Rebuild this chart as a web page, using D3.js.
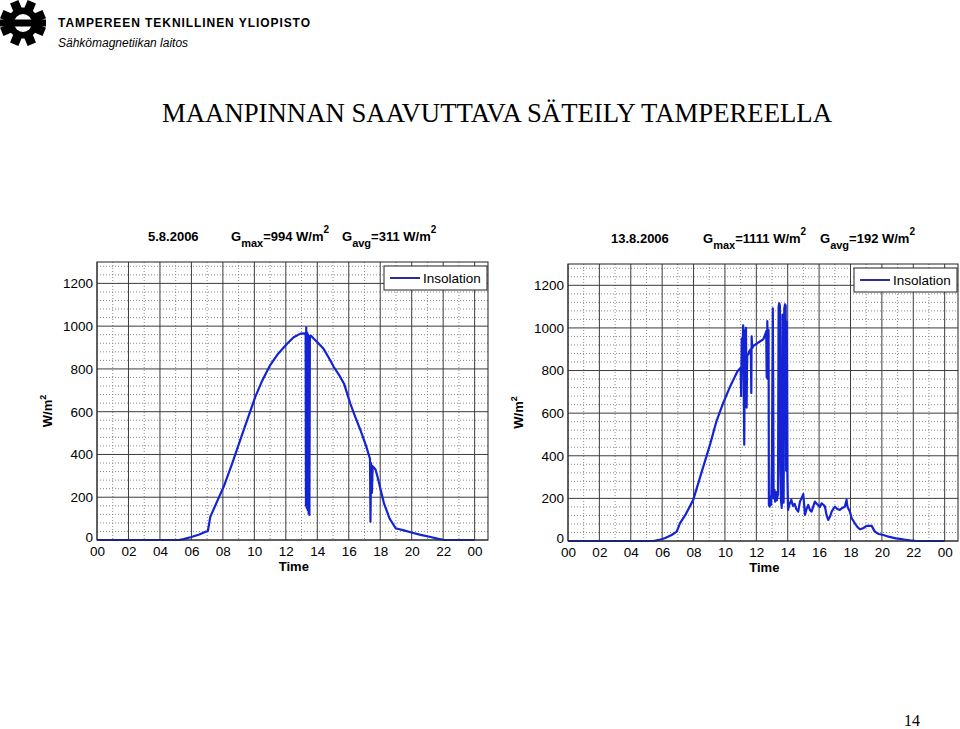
<!DOCTYPE html>
<meta charset="utf-8">
<style>
body { margin: 0; background: #fff; }
svg text { font-family: "Liberation Sans", Arial, sans-serif; }
.tick text { font-size: 13px; fill: #000; }
.major line { stroke: #3c3c3c; stroke-width: 1; }
.minor line { stroke: #8a8a8a; stroke-width: 1; stroke-dasharray: 1,2; }
.axis path.domain { display: none; }
.data { fill: none; stroke: #1424d4; stroke-width: 2.2px; stroke-linejoin: round; }
</style>
<body>
<div id="page"></div>
<script src="https://d3js.org/d3.v7.min.js"></script>
<script>

// 5.8.2006 insolation, hour of day and W/m2
var day1Hours = [0, 5.2, 5.5, 6.0, 6.5, 7.05, 7.2, 7.6, 8.05, 8.6, 9.1, 9.6, 10.06, 10.5, 11.0, 11.5, 12.08, 12.5, 12.93, 13.2,
  13.26, 13.28, 13.3, 13.33, 13.36, 13.39, 13.42, 13.45, 13.48, 13.5, 13.53, 13.6, 13.78, 14.1, 14.4, 14.75, 15.05, 15.4, 15.7,
  16.1, 16.4, 16.75, 17.1, 17.35, 17.38, 17.42, 17.47, 17.52, 17.7, 17.85, 18.0, 18.24, 18.6, 18.98, 19.5, 20.04, 20.57, 21.2,
  21.7, 22.0, 22.5, 24];
var day1Values = [0, 0, 4, 14, 26, 43, 108, 175, 249, 360, 467, 572, 669, 745, 817, 870, 918, 948, 965, 966,
  960, 160, 994, 150, 970, 140, 960, 125, 955, 117, 950, 955, 941, 918, 894, 850, 809, 770, 731,
  638, 578, 513, 440, 380, 85, 360, 220, 345, 330, 290, 243, 171, 100, 55, 45, 34, 24, 14,
  5, 1, 0, 0];

// 13.8.2006 insolation
var day2Hours = [0, 5.43, 5.8, 6.2, 6.6, 6.93, 7.13, 7.5, 7.98, 8.5, 9.04, 9.45, 9.89, 10.3, 10.8, 11.0, 11.03, 11.07, 11.1,
  11.16, 11.2, 11.23, 11.27, 11.3, 11.34, 11.38, 11.42, 11.49, 11.55, 11.65, 11.68, 11.7, 11.74, 11.8, 12.0, 12.2, 12.44,
  12.6, 12.63, 12.66, 12.7, 12.74, 12.78, 12.8, 12.85, 12.9, 12.95, 13.0, 13.05, 13.08, 13.1, 13.15, 13.2, 13.25, 13.3,
  13.38, 13.42, 13.46, 13.5, 13.53, 13.57, 13.62, 13.66, 13.7, 13.74, 13.78, 13.83, 13.87, 13.9, 13.94, 13.98, 14.02,
  14.1, 14.23, 14.33, 14.44, 14.55, 14.67, 14.78, 14.88, 14.99, 15.1, 15.2, 15.31, 15.42, 15.52, 15.62, 15.73, 15.84,
  15.94, 16.05, 16.16, 16.27, 16.37, 16.48, 16.58, 16.7, 16.8, 16.9, 17.01, 17.16, 17.32, 17.48, 17.64, 17.75, 17.8,
  17.85, 17.96, 18.07, 18.28, 18.45, 18.6, 18.8, 19.03, 19.35, 19.55, 19.8, 20.09, 20.35, 20.62, 20.9, 21.15, 21.5,
  21.78, 22.2, 24];
var day2Values = [0, 0, 5, 14, 28, 44, 83, 125, 193, 320, 450, 560, 648, 720, 797, 813, 680, 950, 820,
  1012, 700, 452, 990, 880, 1000, 626, 875, 875, 891, 900, 695, 961, 905, 915, 925, 935, 946,
  975, 985, 767, 1032, 760, 990, 170, 161, 210, 170, 420, 1092, 650, 200, 240, 185, 230, 190,
  220, 1100, 1115, 1105, 340, 190, 155, 1063, 320, 180, 1090, 1111, 1105, 330, 1030, 303, 146,
  170, 193, 165, 174, 150, 138, 185, 200, 220, 122, 150, 169, 145, 138, 160, 185, 175,
  169, 160, 177, 170, 162, 120, 99, 115, 138, 150, 161, 150, 146, 155, 161, 193, 165,
  154, 138, 108, 83, 65, 55, 60, 71, 71, 44, 33, 28, 22, 17, 12, 10, 6,
  3, 0, 0];

var hourTicks = [0, 2, 4, 6, 8, 10, 12, 14, 16, 18, 20, 22, 24];
var hourLabels = ["00", "02", "04", "06", "08", "10", "12", "14", "16", "18", "20", "22", "00"];
var minorHours = [1, 3, 5, 7, 9, 11, 13, 15, 17, 19, 21, 23];
var valueTicks = [0, 200, 400, 600, 800, 1000, 1200];
var minorValues = [40, 80, 120, 160, 240, 280, 320, 360, 440, 480, 520, 560, 640, 680, 720, 760,
  840, 880, 920, 960, 1040, 1080, 1120, 1160, 1240, 1280];

var svg = d3.select("#page").append("svg")
    .attr("width", 960)
    .attr("height", 729);

// header: logo and university name
var logo = svg.append("g").attr("transform", "translate(23,23)");
for (var i = 0; i < 8; i++) {
  logo.append("rect")
      .attr("x", -4.5).attr("y", -23).attr("width", 9).attr("height", 12)
      .attr("fill", "#000")
      .attr("transform", "rotate(" + (i * 45 + 22.5) + ")");
}
logo.append("circle").attr("r", 15.5).attr("fill", "#000");
logo.append("circle").attr("r", 9).attr("fill", "#fff");
logo.append("rect").attr("x", -23).attr("y", -3.5).attr("width", 46).attr("height", 7).attr("fill", "#000");

svg.append("text").attr("x", 58).attr("y", 27)
    .attr("textLength", 252).attr("lengthAdjust", "spacing")
    .style("font-size", "12px").style("font-weight", "bold")
    .text("TAMPEREEN TEKNILLINEN YLIOPISTO");
svg.append("text").attr("x", 58).attr("y", 47)
    .style("font-size", "12px").style("font-style", "italic")
    .text("Sähkömagnetiikan laitos");

svg.append("text").attr("x", 497).attr("y", 122)
    .attr("text-anchor", "middle")
    .attr("textLength", 670).attr("lengthAdjust", "spacingAndGlyphs")
    .style("font-family", "'Liberation Serif', 'Times New Roman', serif")
    .style("font-size", "28px")
    .text("MAANPINNAN SAAVUTTAVA SÄTEILY TAMPEREELLA");

svg.append("text").attr("x", 904).attr("y", 726)
    .style("font-family", "'Liberation Serif', 'Times New Roman', serif")
    .style("font-size", "16px")
    .text("14");

function drawPanel(p) {
  var x = d3.scaleLinear().domain([0, 24.85]).range([p.left, p.right]);
  var y = d3.scaleLinear().domain([0, 1300]).range([p.bottom, p.top]);
  var g = svg.append("g");

  g.append("rect")
      .attr("x", p.left).attr("y", p.top)
      .attr("width", p.right - p.left).attr("height", p.bottom - p.top)
      .attr("fill", "#fff");

  // minor dotted grid
  g.append("g").attr("class", "minor")
      .selectAll("line").data(minorHours).join("line")
      .attr("x1", d => x(d)).attr("x2", d => x(d))
      .attr("y1", p.top).attr("y2", p.bottom);
  g.append("g").attr("class", "minor")
      .selectAll("line").data(minorValues).join("line")
      .attr("x1", p.left).attr("x2", p.right)
      .attr("y1", d => y(d)).attr("y2", d => y(d));

  // major grid
  g.append("g").attr("class", "major")
      .selectAll("line").data(hourTicks).join("line")
      .attr("x1", d => x(d)).attr("x2", d => x(d))
      .attr("y1", p.top).attr("y2", p.bottom);
  g.append("g").attr("class", "major")
      .selectAll("line").data(valueTicks).join("line")
      .attr("x1", p.left).attr("x2", p.right)
      .attr("y1", d => y(d)).attr("y2", d => y(d));

  // axes
  g.append("g").attr("class", "axis")
      .attr("transform", "translate(0," + p.bottom + ")")
      .call(d3.axisBottom(x).tickValues(hourTicks).tickSize(0).tickPadding(6)
        .tickFormat((d, i) => hourLabels[i]))
      .selectAll("text").style("font-size", "13.5px");
  g.append("g").attr("class", "axis")
      .attr("transform", "translate(" + p.left + ",0)")
      .call(d3.axisLeft(y).tickValues(valueTicks).tickSize(0).tickPadding(4)
        .tickFormat(d3.format("d")))
      .selectAll("text").style("font-size", "13.5px")
      .attr("dy", d => d === 0 ? "0.1em" : "0.32em");

  // data line
  var pts = p.hours.map((h, i) => [h, p.values[i]]);
  g.append("path")
      .datum(pts)
      .attr("class", "data")
      .attr("d", d3.line().x(d => x(d[0])).y(d => y(d[1])));

  g.append("rect")
      .attr("x", p.left).attr("y", p.top)
      .attr("width", p.right - p.left).attr("height", p.bottom - p.top)
      .attr("fill", "none").attr("stroke", "#222").attr("stroke-width", 1);

  // legend
  var lg = g.append("g").attr("transform", "translate(" + (p.right - 104) + "," + (p.top + 4) + ")");
  lg.append("rect").attr("width", 103).attr("height", 24)
      .attr("fill", "#fff").attr("stroke", "#222");
  lg.append("line").attr("x1", 6).attr("x2", 36).attr("y1", 12).attr("y2", 12)
      .attr("stroke", "#2d2d96").attr("stroke-width", 2);
  lg.append("text").attr("x", 39).attr("y", 17).style("font-size", "13.5px").text("Insolation");

  // labels
  g.append("text")
      .attr("transform", "translate(" + (p.left - 45) + "," + ((p.top + p.bottom) / 2 + 10) + ") rotate(-90)")
      .attr("text-anchor", "middle")
      .style("font-size", "13px").style("font-weight", "bold")
      .html("W/m<tspan dy='-6' font-size='9px'>2</tspan>");
  g.append("text")
      .attr("x", x(12) + 8).attr("y", p.bottom + 31)
      .attr("text-anchor", "middle")
      .style("font-size", "13px").style("font-weight", "bold")
      .text("Time");

  // title
  var t = g.append("text").attr("y", p.top - 21).style("font-size", "13px").style("font-weight", "bold");
  t.append("tspan").attr("x", p.dateX).text(p.date);
  t.append("tspan").attr("x", p.gmaxX).text("G");
  t.append("tspan").attr("dy", 6).style("font-size", "11px").text("max");
  t.append("tspan").attr("dy", -6).text("=" + p.gmax + " W/m");
  t.append("tspan").attr("dy", -8).style("font-size", "10px").text("2");
  t.append("tspan").attr("dy", 8).attr("x", p.gavgX).text("G");
  t.append("tspan").attr("dy", 6).style("font-size", "11px").text("avg");
  t.append("tspan").attr("dy", -6).text("=" + p.gavg + " W/m");
  t.append("tspan").attr("dy", -8).style("font-size", "10px").text("2");
}

drawPanel({left: 97, right: 488, top: 262, bottom: 540, hours: day1Hours, values: day1Values,
  date: "5.8.2006", gmax: 994, gavg: 311, dateX: 148, gmaxX: 231, gavgX: 342});
drawPanel({left: 568, right: 958, top: 264, bottom: 541, hours: day2Hours, values: day2Values,
  date: "13.8.2006", gmax: 1111, gavg: 192, dateX: 611, gmaxX: 703, gavgX: 820});

</script>
</body>
